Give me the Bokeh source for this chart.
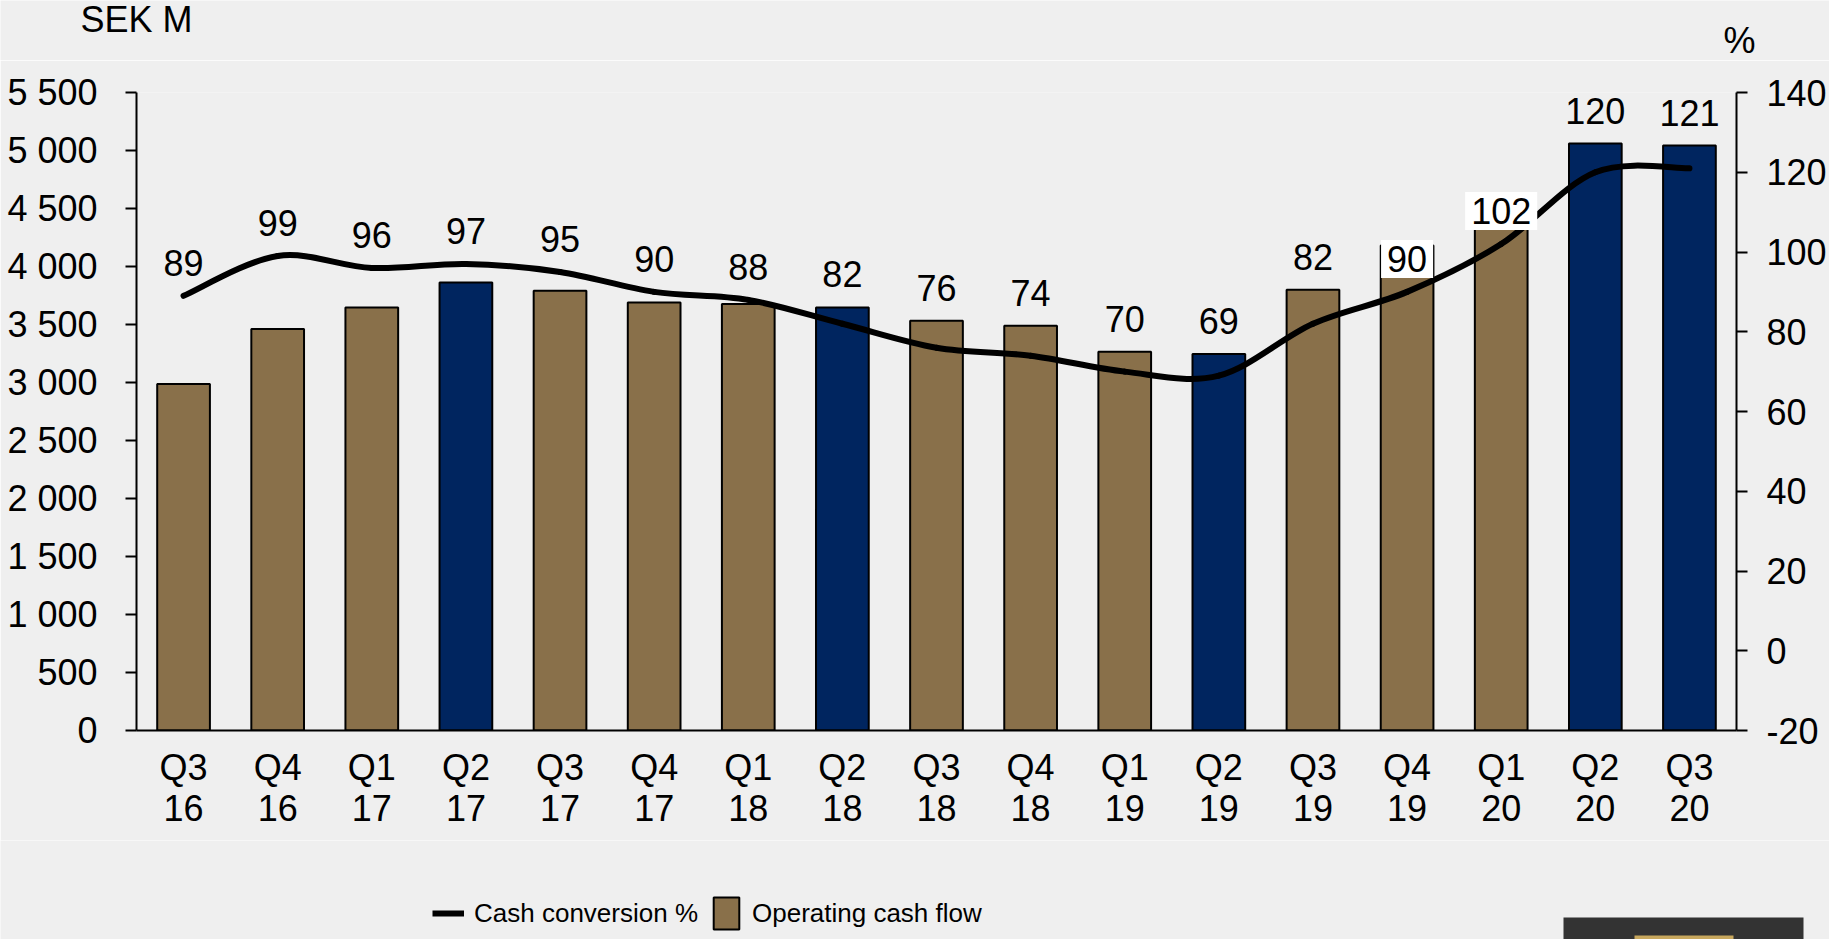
from bokeh.plotting import figure
from bokeh.layouts import column
from bokeh.models import (Range1d, LinearAxis, FixedTicker, Legend,
                          LegendItem, ColumnDataSource)
from bokeh.core.properties import value
from bokeh.embed import file_html
from bokeh.resources import INLINE

# ---------------- data ----------------
quarters = ["Q3\n16", "Q4\n16", "Q1\n17", "Q2\n17", "Q3\n17", "Q4\n17",
            "Q1\n18", "Q2\n18", "Q3\n18", "Q4\n18", "Q1\n19", "Q2\n19",
            "Q3\n19", "Q4\n19", "Q1\n20", "Q2\n20", "Q3\n20"]
operating_cash_flow = [2987, 3461, 3647, 3863, 3791, 3690, 3676, 3647, 3533,
                       3490, 3266, 3246, 3800, 4180, 4550, 5060, 5043]
cash_conversion = [89, 99, 96, 97, 95, 90, 88, 82, 76, 74, 70, 69, 82, 90,
                   102, 120, 121]
highlighted = [False, False, False, True, False, False, False, True, False,
               False, False, True, False, False, False, True, True]
boxed_label = [False] * 13 + [True, True, False, False]
left_ticks = list(range(0, 5501, 500))
right_ticks = list(range(-20, 141, 20))

# ---------------- style ----------------
BG = "#efefef"
BROWN = "#89704a"
NAVY = "#00255f"
FONT = "Liberation Sans"
FS = "36px"
LEGEND_FS = "26px"
W = 1829
HEAD_H, MAIN_H, FOOT_H = 60, 780, 99

n = len(quarters)
xs = [i + 0.5 for i in range(n)]
LMIN, LMAX = 0, 5500
RMIN, RMAX = -20, 140


def blank_figure(h):
    f = figure(width=W, height=h, output_backend="svg", toolbar_location=None,
               x_range=Range1d(0, W), y_range=Range1d(h, 0),
               x_axis_location=None, y_axis_location=None,
               min_border=0, background_fill_color=BG, border_fill_color=BG,
               outline_line_color=None, frame_align=False)
    f.grid.visible = False
    return f


# ---------------- header: unit captions ----------------
head = blank_figure(HEAD_H)
head.text(x=[80], y=[18.5], text=["SEK M"], text_font=value(FONT),
          text_font_size=FS, text_color="black", text_baseline="middle")
head.text(x=[1723], y=[39.5], text=["%"], text_font=value(FONT),
          text_font_size=FS, text_color="black", text_baseline="middle")

# ---------------- main chart ----------------
p = figure(width=W, height=MAIN_H, output_backend="svg", toolbar_location=None,
           x_range=Range1d(0, n), y_range=Range1d(LMIN, LMAX),
           min_border_left=136, min_border_right=90, min_border_top=32,
           min_border_bottom=110, background_fill_color=BG,
           border_fill_color=BG, outline_line_color=None, frame_align=False)
p.extra_y_ranges = {"pct": Range1d(RMIN, RMAX)}
p.grid.visible = False


def style_axis(ax):
    ax.axis_line_color = "black"
    ax.axis_line_width = 2
    ax.major_tick_line_color = "black"
    ax.major_tick_line_width = 2
    ax.minor_tick_line_color = None
    ax.major_tick_in = 0
    ax.major_label_text_font = FONT
    ax.major_label_text_font_size = FS
    ax.major_label_text_color = "black"


xa = p.xaxis[0]
style_axis(xa)
xa.ticker = FixedTicker(ticks=xs)
xa.major_label_overrides = {x: q for x, q in zip(xs, quarters)}
xa.major_tick_out = 0
xa.major_label_standoff = 16
xa.major_label_text_line_height = 1.0

ya = p.yaxis[0]
style_axis(ya)
ya.ticker = FixedTicker(ticks=left_ticks)
ya.major_label_overrides = {t: f"{t:,}".replace(",", " ") for t in left_ticks}
ya.major_tick_out = 11
ya.major_label_standoff = 28

ra = LinearAxis(y_range_name="pct", ticker=FixedTicker(ticks=right_ticks))
style_axis(ra)
ra.major_label_overrides = {t: str(t) for t in right_ticks}
ra.major_tick_out = 11
ra.major_label_standoff = 19
p.add_layout(ra, "right")

src = ColumnDataSource(dict(
    x=xs, top=operating_cash_flow,
    color=[NAVY if h else BROWN for h in highlighted]))
p.vbar(x="x", top="top", width=0.56, bottom=0, source=src,
       fill_color="color", line_color="black", line_width=2)

# smoothed line (Catmull-Rom converted to cubic Bezier segments)
x0, y0, x1, y1, cx0, cy0, cx1, cy1 = [], [], [], [], [], [], [], []
for i in range(n - 1):
    xp, yp = xs[max(i - 1, 0)], cash_conversion[max(i - 1, 0)]
    xa_, ya_ = xs[i], cash_conversion[i]
    xb, yb = xs[i + 1], cash_conversion[i + 1]
    xn, yn = xs[min(i + 2, n - 1)], cash_conversion[min(i + 2, n - 1)]
    x0.append(xa_); y0.append(ya_)
    x1.append(xb); y1.append(yb)
    cx0.append(xa_ + (xb - xp) / 6.0); cy0.append(ya_ + (yb - yp) / 6.0)
    cx1.append(xb - (xn - xa_) / 6.0); cy1.append(yb - (yn - ya_) / 6.0)
p.bezier(x0=x0, y0=y0, x1=x1, y1=y1, cx0=cx0, cy0=cy0, cx1=cx1, cy1=cy1,
         line_color="black", line_width=6, line_cap="round",
         y_range_name="pct")


def sek_to_pct(v):
    return RMIN + (v - LMIN) * (RMAX - RMIN) / (LMAX - LMIN)


plain = dict(x=[], y=[], t=[])
boxed = dict(x=[], y=[], t=[])
for i in range(n):
    if boxed_label[i]:
        anchor = cash_conversion[i]
        d = boxed
    else:
        anchor = max(cash_conversion[i], sek_to_pct(operating_cash_flow[i]))
        d = plain
    d["x"].append(xs[i]); d["y"].append(anchor); d["t"].append(str(cash_conversion[i]))

p.text(x="x", y="y", text="t", source=ColumnDataSource(plain),
       y_range_name="pct", y_offset=-33, text_align="center",
       text_baseline="middle", text_font=value(FONT), text_font_size=FS,
       text_color="black")
p.text(x="x", y="y", text="t", source=ColumnDataSource(boxed),
       y_range_name="pct", y_offset=-33, text_align="center",
       text_baseline="middle", text_font=value(FONT), text_font_size=FS,
       text_color="black", background_fill_color="white", padding=6)

# ---------------- footer: legend + logo block ----------------
foot = blank_figure(FOOT_H)
# hidden renderers that only lend their look to the legend entries
line_proxy = foot.line(x=xs, y=cash_conversion, line_color="black",
                       line_width=6, visible=False)
bar_proxy = foot.vbar(x="x", top="top", width=0.56, source=src,
                      fill_color="color", line_color="black", line_width=2,
                      visible=False)
legend = Legend(items=[
    LegendItem(label="Cash conversion %", renderers=[line_proxy]),
    LegendItem(label="Operating cash flow", renderers=[bar_proxy], index=0)],
    location=(432, 6), orientation="horizontal",
    glyph_width=32, glyph_height=40, label_height=40, label_standoff=10,
    spacing=12, padding=0, margin=0, border_line_color=None,
    background_fill_alpha=0, inactive_fill_alpha=0,
    label_text_font=FONT, label_text_font_size=LEGEND_FS,
    label_text_color="black")
foot.add_layout(legend)
foot.quad(left=[1563], right=[1803], top=[77], bottom=[FOOT_H + 5],
          fill_color="#333333", line_color=None)
foot.quad(left=[1634], right=[1733], top=[95], bottom=[FOOT_H + 5],
          fill_color="#c8a85e", line_color=None)

layout = column(head, p, foot, spacing=0)
open("out.html", "w").write(file_html(layout, INLINE))
